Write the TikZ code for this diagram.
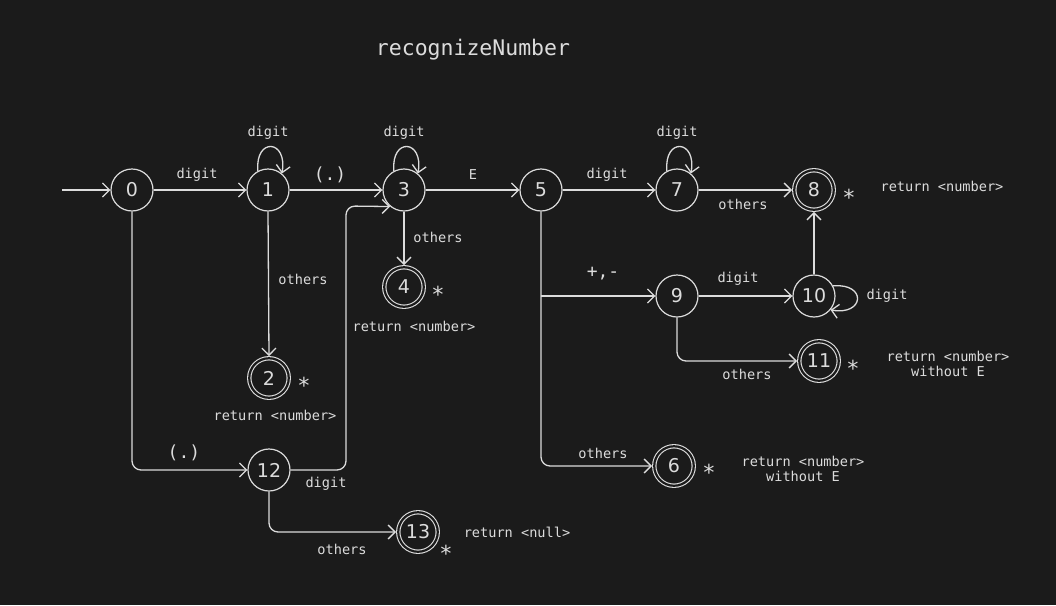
\documentclass[tikz,border=0pt]{standalone}
\usepackage{fontspec}
\setmainfont{DejaVu Sans Mono}
\newfontfamily\numfont{DejaVu Sans}
\usetikzlibrary{arrows.meta}
\definecolor{bg}{HTML}{1B1B1B}
\definecolor{fg}{HTML}{DCDCDC}
\tikzset{
  state/.style={circle, draw=fg, line width=1.2pt, minimum size=42pt, inner sep=0pt, text=fg, font=\numfont\fontsize{19}{19}\selectfont},
  acc/.style={circle, draw=fg, double=bg, double distance=2.2pt, line width=1.1pt, minimum size=39.5pt, outer sep=2.2pt, inner sep=0pt, text=fg, font=\numfont\fontsize{19}{19}\selectfont},
  arr/.style={draw=fg, line width=1.3pt, -{Straight Barb[length=7pt,width=14pt,line width=1.3pt]}, rounded corners=9pt},
  lbl/.style={text=fg, font=\fontsize{13.6}{15.5}\selectfont, inner sep=0pt},
  big/.style={text=fg, font=\fontsize{18}{18}\selectfont, inner sep=0pt},
  star/.style={text=fg, font=\fontsize{22}{22}\selectfont, inner sep=0pt},
}
\begin{document}
\begin{tikzpicture}[x=1pt,y=-1pt]
\fill[bg] (0,0) rectangle (1056,605);
\useasboundingbox (0,0) rectangle (1056,605);

\node[text=fg, font=\fontsize{21.5}{22}\selectfont] (title) at (473,50) {recognizeNumber};

% states
\node[state] (n0) at (132,190) {0};
\node[state] (n1) at (268,190) {1};
\node[state] (n3) at (404,190) {3};
\node[state] (n5) at (541,190) {5};
\node[state] (n7) at (677,190) {7};
\node[acc] (n8) at (814,190) {8};
\node[acc] (n4) at (404,287) {4};
\node[acc] (n2) at (269,378) {2};
\node[state] (n12) at (269,470) {12};
\node[acc] (n13) at (418,532) {13};
\node[state] (n9) at (677,296) {9};
\node[state] (n10) at (814,296) {10};
\node[acc] (n11) at (819,361) {11};
\node[acc] (n6) at (674,466) {6};

% connectors
\coordinate (start) at (62,190);
\draw[arr] (start) -- (n0.west);
\draw[arr] (n0.east) -- (n1.west);
\draw[arr] (n1.118) .. controls +(-3,-34) and +(6,-34) .. (n1.50);
\draw[arr] (n1.east) -- (n3.west);
\draw[arr] (n3.118) .. controls +(-3,-34) and +(6,-34) .. (n3.50);
\draw[arr] (n3.east) -- (n5.west);
\draw[arr] (n5.east) -- (n7.west);
\draw[arr] (n7.118) .. controls +(-3,-34) and +(6,-34) .. (n7.50);
\draw[arr] (n7.east) -- (n8.west);
\draw[arr] (n10.north) -- (n8.south);
\draw[arr] (n3.south) -- (n4.north);
\draw[arr] (n1.south) -- (n2.north);
\draw[arr] (n0.south) -- (132,470) -- (n12.west);
\draw[arr] (n12.east) -- (346,470) -- (346,206) -- (n3.230);
\draw[arr] (n12.south) -- (269,532) -- (n13.west);
\coordinate (b5) at (541,296);
\draw[arr] (n5.south) -- (541,466) -- (n6.west);
\draw[arr] (b5) -- (n9.west);
\draw[arr] (n9.east) -- (n10.west);
\draw[arr] (n10.28) .. controls +(34,-3) and +(34,6) .. (n10.-40);
\draw[arr] (n9.south) -- (677,361) -- (n11.west);

% edge labels
\node[lbl] (l01) at (197,175) {digit};
\node[lbl] (l11) at (268,133) {digit};
\node[big] (l13) at (330,175) {(.)};
\node[lbl] (l33) at (404,133) {digit};
\node[lbl] (l35) at (473,175) {E};
\node[lbl] (l57) at (607,175) {digit};
\node[lbl] (l77) at (677,133) {digit};
\node[lbl] (l78) at (743,204) {others};
\node[lbl] (l34) at (438,237) {others};
\node[lbl] (l12) at (303,279) {others};
\node[big] (l012) at (184,453) {(.)};
\node[lbl] (l123) at (326,484) {digit};
\node[lbl] (l1213) at (342,549) {others};
\node[big] (l59) at (603,274) {+,-};
\node[lbl] (l56) at (603,453) {others};
\node[lbl] (l910) at (738,279) {digit};
\node[lbl] (l1010) at (887,296) {digit};
\node[lbl] (l911) at (747,374) {others};

% stars
\node[star] (s8) at (849,197) {*};
\node[star] (s4) at (438,294) {*};
\node[star] (s2) at (304,385) {*};
\node[star] (s11) at (853,368) {*};
\node[star] (s6) at (709,472) {*};
\node[star] (s13) at (446,553) {*};

% returns
\node[lbl] (r8) at (942,186) {return <number>};
\node[lbl] (r4) at (414,326) {return <number>};
\node[lbl] (r2) at (275,415) {return <number>};
\node[lbl] (r13) at (517,532) {return <null>};
\node[lbl, align=center] (r11) at (948,364) {return <number>\\without E};
\node[lbl, align=center] (r6) at (803,469) {return <number>\\without E};
\end{tikzpicture}
\end{document}
